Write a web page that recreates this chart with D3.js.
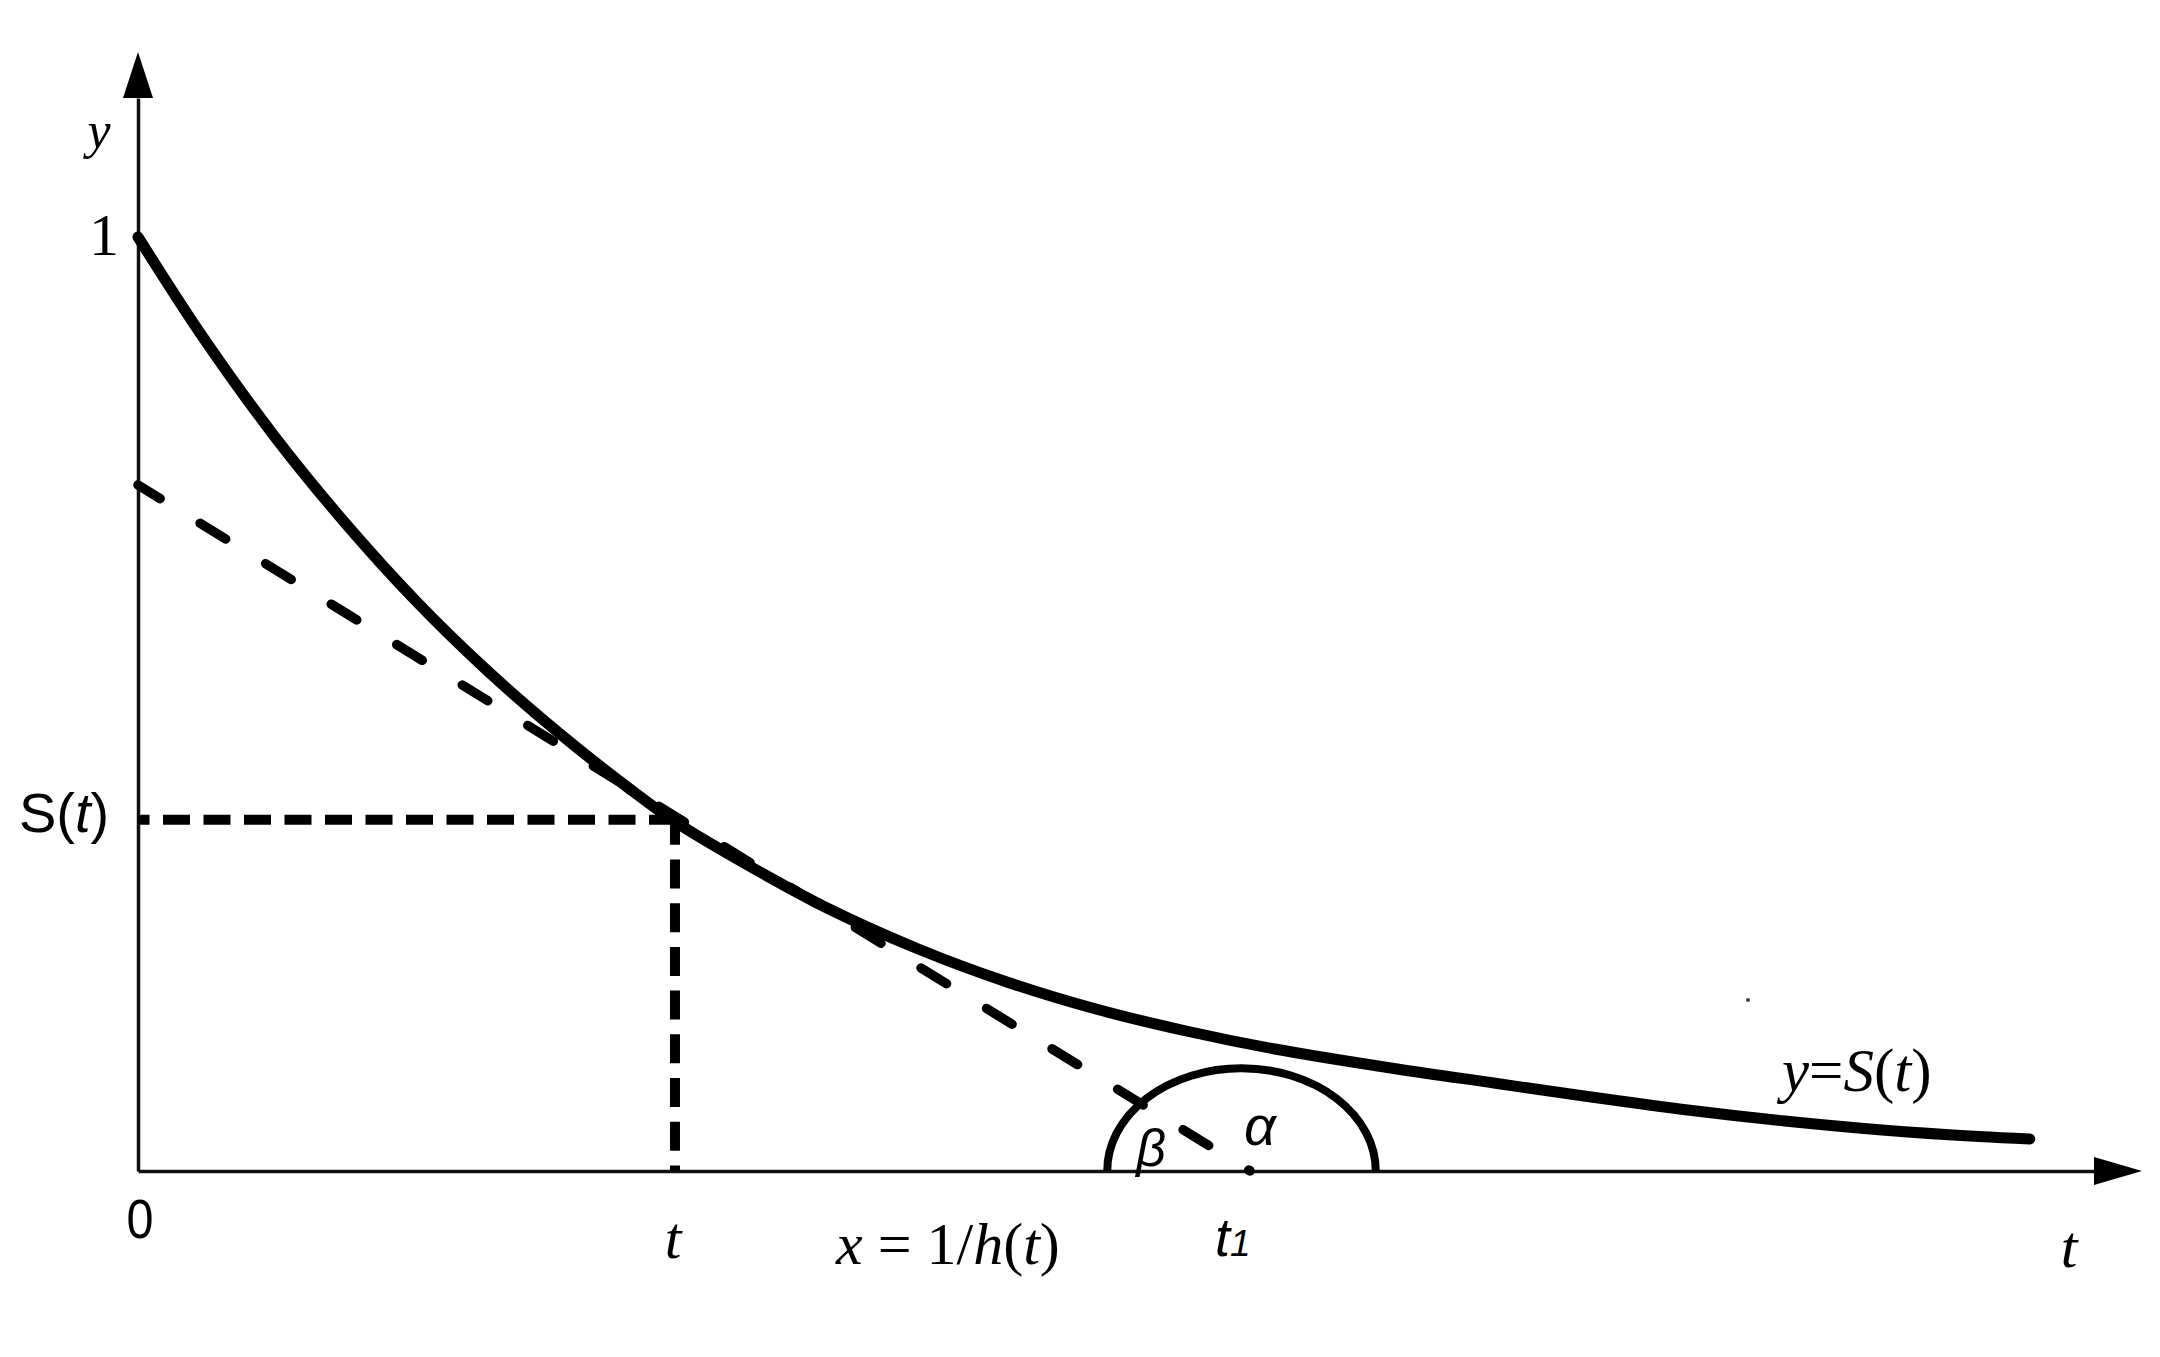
<!DOCTYPE html>
<html>
<head>
<title>Survival curve S(t)</title>
<script src='https://cdnjs.cloudflare.com/ajax/libs/d3/7.8.5/d3.min.js'></script>
<style>
body{margin:0;background:#fff;}
.serif{font-family:"Liberation Serif","Times New Roman",serif;}
.sans{font-family:"Liberation Sans",Arial,sans-serif;}
</style>
</head>
<body>
<script>

	// survival curve y = S(t)
	var tValues = [0, 0.117, 0.251, 0.384, 0.518, 0.650, 0.784, 0.916, 1.0, 1.119, 1.287, 1.453,
	               1.618, 1.784, 1.952, 2.117, 2.345, 2.525, 2.706, 2.886, 3.067, 3.248, 3.428, 3.523];
	var sValues = [1.0, 0.896, 0.789, 0.695, 0.610, 0.536, 0.469, 0.409, 0.374, 0.333, 0.2805, 0.2377,
	               0.2024, 0.1734, 0.1499, 0.1306, 0.1092, 0.0942, 0.0792, 0.0653, 0.0535, 0.0439, 0.0369, 0.0343];

	// dashed tangent line, from the y axis down to t1
	var tangentT = [0, 2.071];
	var tangentS = [0.7345, 0];

	// the marked point (t, S(t)) and t1
	var markT = 1.0,
		markS = 0.376,
		t1 = 2.071;

	// half ellipse round t1 (radii in data units)
	var arcCenterT = 2.055,
		arcRxT = 0.25,
		arcRyS = 0.110;

	var xMax = 3.732,
		yMax = 1.198;

	var width = 2160,
		height = 1357;

	var svg = d3.select("body")
				.append("svg")
				.attr("width", width)
				.attr("height", height)
				.style("background-color", "white");

	var x = d3.scaleLinear().domain([0, xMax]).range([138, 2142]);
	var y = d3.scaleLinear().domain([0, 1]).range([1171, 237]);

	var ink = "#000";

	// axes: plain domain lines, no ticks, arrows added by hand
	var arrowLen = 48;

	svg.append("g")
		.attr("transform", "translate(0," + y(0) + ")")
		.call(d3.axisBottom(d3.scaleLinear().domain([0, 1]).range([x(0), x(xMax) - arrowLen + 2]))
			.tickValues([]).tickSizeOuter(0))
		.select(".domain")
		.attr("stroke", "#111")
		.attr("stroke-width", 3.5);

	svg.append("g")
		.attr("transform", "translate(" + x(0) + ",0)")
		.call(d3.axisLeft(d3.scaleLinear().domain([0, 1]).range([y(0), y(yMax) + arrowLen - 2]))
			.tickValues([]).tickSizeOuter(0))
		.select(".domain")
		.attr("stroke", "#111")
		.attr("stroke-width", 3.5);

	svg.append("path")
		.attr("d", "M" + x(xMax) + "," + y(0) +
			"L" + (x(xMax) - arrowLen) + "," + (y(0) - 14) +
			"L" + (x(xMax) - arrowLen) + "," + (y(0) + 14) + "Z")
		.attr("fill", ink);

	svg.append("path")
		.attr("d", "M" + x(0) + "," + y(yMax) +
			"L" + (x(0) - 15) + "," + (y(yMax) + arrowLen - 2) +
			"L" + (x(0) + 15) + "," + (y(yMax) + arrowLen - 2) + "Z")
		.attr("fill", ink);

	// dashed guide lines to (t, S(t))
	svg.append("line")
		.attr("x1", x(0)).attr("y1", y(markS))
		.attr("x2", x(markT)).attr("y2", y(markS))
		.attr("stroke", ink)
		.attr("stroke-width", 10)
		.attr("stroke-dasharray", "27,13.5")
		.attr("stroke-dashoffset", 15.5);

	svg.append("line")
		.attr("x1", x(markT)).attr("y1", y(markS))
		.attr("x2", x(markT)).attr("y2", y(0))
		.attr("stroke", ink)
		.attr("stroke-width", 10)
		.attr("stroke-dasharray", "29,14.7")
		.attr("stroke-dashoffset", 4);

	// tangent
	var tangent = d3.zip(tangentT, tangentS);
	svg.append("path")
		.datum(tangent)
		.attr("d", d3.line().x(function(d){ return x(d[0]); }).y(function(d){ return y(d[1]); }))
		.attr("fill", "none")
		.attr("stroke", ink)
		.attr("stroke-width", 9.5)
		.attr("stroke-linecap", "round")
		.attr("stroke-dasharray", "30,47")
		.attr("stroke-dashoffset", 4);

	// half ellipse round t1
	var ax0 = x(arcCenterT - arcRxT),
		ax1 = x(arcCenterT + arcRxT),
		rx = (ax1 - ax0) / 2,
		ry = y(0) - y(arcRyS);
	svg.append("path")
		.attr("d", "M" + ax0 + "," + y(0) + "A" + rx + "," + ry + " 0 0 1 " + ax1 + "," + y(0))
		.attr("fill", "none")
		.attr("stroke", ink)
		.attr("stroke-width", 8);

	// small mark at t1
	svg.append("circle")
		.attr("cx", x(t1)).attr("cy", y(0) - 1)
		.attr("r", 4)
		.attr("fill", ink);

	// the curve
	var curve = d3.zip(tValues, sValues);
	svg.append("path")
		.datum(curve)
		.attr("d", d3.line()
			.x(function(d){ return x(d[0]); })
			.y(function(d){ return y(d[1]); })
			.curve(d3.curveCatmullRom.alpha(0.5)))
		.attr("fill", "none")
		.attr("stroke", ink)
		.attr("stroke-width", 11)
		.attr("stroke-linecap", "round")
		.attr("stroke-linejoin", "round");

	// stray speck from the scan
	svg.append("circle").attr("cx", 1748).attr("cy", 1000).attr("r", 2).attr("fill", "#444");

	// labels
	function label(cls, px, py, size, anchor){
		return svg.append("text")
			.attr("class", cls)
			.attr("x", px).attr("y", py)
			.attr("font-size", size)
			.attr("text-anchor", anchor || "middle")
			.attr("fill", ink);
	}

	label("serif", 99, 148, 52).attr("font-style", "italic").text("y");
	label("serif", 104, 255, 60).text("1");

	var st = label("sans", 64, 832, 56);
	st.append("tspan").text("S(");
	st.append("tspan").attr("font-style", "italic").text("t");
	st.append("tspan").text(")");

	label("sans", 140, 1238, 56).attr("textLength", 27).attr("lengthAdjust", "spacingAndGlyphs").text("0");
	label("serif", x(markT) - 2, 1258, 60).attr("font-style", "italic").text("t");

	var xh = label("serif", 836, 1264, 60, "start");
	xh.append("tspan").attr("font-style", "italic").text("x");
	xh.append("tspan").text(" = 1/");
	xh.append("tspan").attr("font-style", "italic").text("h");
	xh.append("tspan").text("(");
	xh.append("tspan").attr("font-style", "italic").text("t");
	xh.append("tspan").text(")");

	var tt = label("sans", 1215, 1256, 54, "start").attr("font-style", "italic");
	tt.append("tspan").text("t");
	tt.append("tspan").attr("font-size", 37).text("1");

	label("sans", 1151, 1166, 52).attr("font-style", "italic").text("β");
	label("sans", 1260, 1145, 56).attr("font-style", "italic").text("α");

	var ys = label("serif", 1782, 1091, 61, "start");
	ys.append("tspan").attr("font-style", "italic").text("y");
	ys.append("tspan").text("=");
	ys.append("tspan").attr("font-style", "italic").text("S");
	ys.append("tspan").text("(");
	ys.append("tspan").attr("font-style", "italic").text("t");
	ys.append("tspan").text(")");

	label("serif", 2069, 1267, 60).attr("font-style", "italic").text("t");

</script>
</body>
</html>
